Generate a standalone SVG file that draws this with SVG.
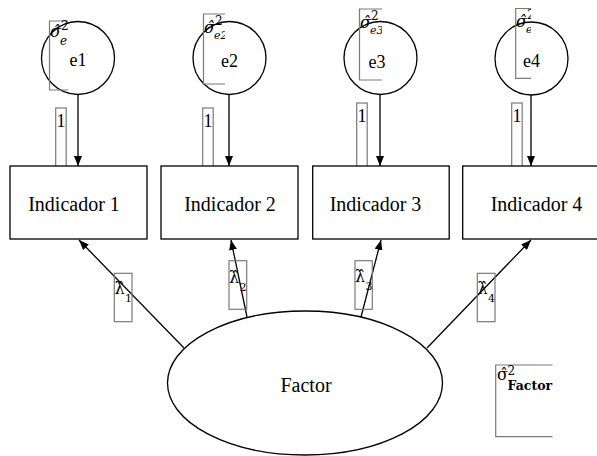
<svg xmlns="http://www.w3.org/2000/svg" width="597" height="456" viewBox="0 0 597 456">
<style>
.node{fill:#fff;stroke:#000;stroke-width:1.3}
.lbl{font-family:"Liberation Serif",serif;fill:#000}
.big{font-size:20px}
.mid{font-size:18px}
.sym{font-family:"DejaVu Serif",serif;fill:#000}
.gbox{fill:none;stroke:#7a7a7a;stroke-width:1.2}
.edge{stroke:#000;stroke-width:1.3;fill:none}
.sub{font-size:11px}
</style>
<defs>
<marker id="ah" viewBox="0 0 10 8" refX="10" refY="4" markerWidth="10" markerHeight="8" markerUnits="userSpaceOnUse" orient="auto">
<path d="M0,0 L10,4 L0,8 z" fill="#000"/>
</marker>
<clipPath id="c1"><rect x="49" y="20" width="20" height="71"/></clipPath>
<clipPath id="c2"><rect x="203" y="13" width="22" height="72"/></clipPath>
<clipPath id="c3"><rect x="359" y="8" width="23" height="73"/></clipPath>
<clipPath id="c4"><rect x="515" y="7" width="16" height="72"/></clipPath>
<clipPath id="cf"><rect x="495" y="364" width="58" height="73"/></clipPath>
</defs>
<rect width="597" height="456" fill="#fff"/>

<g id="connectors">
<line class="edge" x1="78" y1="95" x2="78" y2="166" marker-end="url(#ah)"/>
<line class="edge" x1="229" y1="95" x2="229" y2="166" marker-end="url(#ah)"/>
<line class="edge" x1="380" y1="95" x2="380" y2="166" marker-end="url(#ah)"/>
<line class="edge" x1="531" y1="95" x2="531" y2="166" marker-end="url(#ah)"/>
<line class="edge" x1="184" y1="348" x2="79" y2="240" marker-end="url(#ah)"/>
<line class="edge" x1="247" y1="317" x2="231" y2="240" marker-end="url(#ah)"/>
<line class="edge" x1="361" y1="317" x2="381" y2="240" marker-end="url(#ah)"/>
<line class="edge" x1="427" y1="348" x2="531" y2="240" marker-end="url(#ah)"/>
<g id="path-labels">
<rect class="gbox" x="55.7" y="108" width="10.5" height="71"/>
<text class="lbl mid" x="61" y="127" text-anchor="middle">1</text>
<rect class="gbox" x="202.7" y="108" width="10.5" height="71"/>
<text class="lbl mid" x="208" y="127" text-anchor="middle">1</text>
<rect class="gbox" x="356.7" y="103" width="10.5" height="71"/>
<text class="lbl mid" x="362" y="122" text-anchor="middle">1</text>
<rect class="gbox" x="511.7" y="103" width="10.5" height="71"/>
<text class="lbl mid" x="517" y="122" text-anchor="middle">1</text>

<rect class="gbox" x="114.3" y="273.3" width="17.7" height="48.4"/>
<text class="sym" font-size="16"><tspan x="114.5" y="294">λ̂</tspan><tspan class="sub" x="125" y="302">1</tspan></text>
<rect class="gbox" x="229" y="260.7" width="17.7" height="48.6"/>
<text class="sym" font-size="16"><tspan x="229" y="283">λ̂</tspan><tspan class="sub" x="239.5" y="291">2</tspan></text>
<rect class="gbox" x="355" y="260.7" width="17.3" height="48.6"/>
<text class="sym" font-size="16"><tspan x="355" y="282">λ̂</tspan><tspan class="sub" x="365.5" y="290">3</tspan></text>
<rect class="gbox" x="477.3" y="273.3" width="17.7" height="48.4"/>
<text class="sym" font-size="16"><tspan x="477.5" y="294">λ̂</tspan><tspan class="sub" x="488" y="302">4</tspan></text>
</g>
</g>

<g id="e1">
<circle class="node" cx="78" cy="58" r="36.5"/>
<text class="lbl mid" x="78" y="66" text-anchor="middle">e1</text>
<path class="gbox" d="M68,21 H49.5 V90 H68"/>
<g clip-path="url(#c1)">
<text class="sym" font-size="16" font-style="italic"><tspan x="50" y="37">σ̂</tspan><tspan font-size="12" font-style="normal" x="61" y="30">2</tspan><tspan font-size="12" x="60" y="45">e</tspan></text>
</g>
</g>
<g id="e2">
<circle class="node" cx="229.5" cy="58" r="36.5"/>
<text class="lbl mid" x="229.5" y="67" text-anchor="middle">e2</text>
<path class="gbox" d="M225,14 H203.5 V84 H225"/>
<g clip-path="url(#c2)">
<text class="sym" font-size="16" font-style="italic"><tspan x="204" y="33">σ̂</tspan><tspan font-size="12" font-style="normal" x="215" y="25">2</tspan><tspan font-size="11" x="214" y="39">e2</tspan></text>
</g>
</g>
<g id="e3">
<circle class="node" cx="380.5" cy="58" r="36.5"/>
<text class="lbl mid" x="377" y="68" text-anchor="middle">e3</text>
<path class="gbox" d="M382,9 H359.5 V80 H382"/>
<g clip-path="url(#c3)">
<text class="sym" font-size="16" font-style="italic"><tspan x="360" y="28">σ̂</tspan><tspan font-size="12" font-style="normal" x="371" y="20">2</tspan><tspan font-size="11" x="370" y="34">e3</tspan></text>
</g>
</g>
<g id="e4">
<circle class="node" cx="531.5" cy="58.5" r="36.5"/>
<text class="lbl mid" x="531.5" y="67" text-anchor="middle">e4</text>
<path class="gbox" d="M531,8.5 H515.7 V78.3 H531"/>
<g clip-path="url(#c4)">
<text class="sym" font-size="16" font-style="italic"><tspan x="516" y="27">σ̂</tspan><tspan font-size="12" font-style="normal" x="527" y="19">2</tspan><tspan font-size="11" x="526" y="33">e</tspan></text>
</g>
</g>

<g id="ind1">
<rect class="node" x="10" y="166" width="137" height="73"/>
<text class="lbl big" x="74" y="211" text-anchor="middle">Indicador 1</text>
</g>
<g id="ind2">
<rect class="node" x="161" y="166" width="137" height="73"/>
<text class="lbl big" x="230" y="211" text-anchor="middle">Indicador 2</text>
</g>
<g id="ind3">
<rect class="node" x="312.7" y="166" width="136.5" height="73"/>
<text class="lbl big" x="375.5" y="211" text-anchor="middle">Indicador 3</text>
</g>
<g id="ind4">
<rect class="node" x="462.7" y="166" width="137" height="73"/>
<text class="lbl big" x="536.5" y="211" text-anchor="middle">Indicador 4</text>
</g>

<g id="factor">
<ellipse class="node" cx="305" cy="383" rx="137.5" ry="72"/>
<text class="lbl big" x="306" y="392" text-anchor="middle">Factor</text>
</g>

<g id="factor-variance">
<path class="gbox" d="M552.5,365 H495.7 V436.7 H552.5"/>
<g clip-path="url(#cf)">
<text class="sym" font-size="16"><tspan x="497" y="380">σ̂</tspan><tspan font-size="12" x="507.5" y="375">2</tspan><tspan font-size="12.5" font-weight="bold" x="507.5" y="390">Factor</tspan></text>
</g>
</g>
</svg>
